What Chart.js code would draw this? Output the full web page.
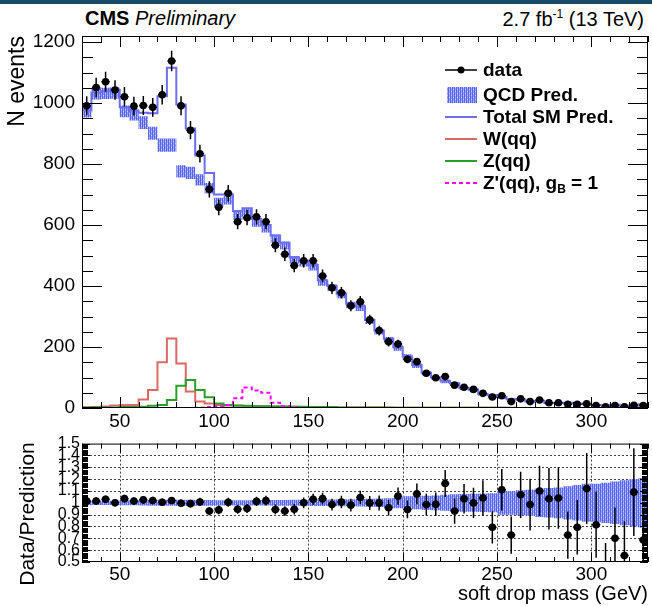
<!DOCTYPE html>
<html>
<head>
<meta charset="utf-8">
<script src="https://cdn.jsdelivr.net/npm/chart.js@4.4.1/dist/chart.umd.min.js"></script>
<style>
  body { margin: 0; background: #fff; width: 652px; height: 606px; overflow: hidden; position: relative;
         font-family: "Liberation Sans", Arial, sans-serif; }
  #strip { position: absolute; left: 0; top: 0; width: 652px; height: 4px; background: #1b4a68; }
  .hdr { position: absolute; top: 7px; font-size: 20px; color: #000; white-space: nowrap; }
  #hdrL { left: 85px; }
  #hdrR { right: 8px; }
  #hdrR sup { font-size: 12px; }
  canvas { position: absolute; left: 0; }
  #main { top: 0; }
  #ratio { top: 432px; }
</style>
</head>
<body>
<div id="strip"></div>
<div class="hdr" id="hdrL"><b>CMS</b> <i>Preliminary</i></div>
<div class="hdr" id="hdrR">2.7 fb<sup>-1</sup> (13 TeV)</div>
<canvas id="main" width="652" height="440"></canvas>
<canvas id="ratio" width="652" height="174"></canvas>
<script>
// binning: 5 GeV bins from 30 to 330 GeV
const BIN_LO = 30;
const BIN_W = 5;

const dataCounts = [991, 1051, 1070, 1043, 1021, 990, 992, 986, 1027, 1138,
  991, 911, 834, 717, 658, 704, 611, 624, 627, 611,
  534, 504, 467, 483, 483, 433, 394, 378, 335, 348,
  289, 254, 217, 210, 160, 152, 114, 99, 103, 75,
  68, 61, 48, 36, 40, 21, 30, 21, 26, 17,
  17, 12, 12, 14, 8, 4, 8, 4, 9, 8];
const dataErr = [31, 32, 33, 32, 32, 31, 31, 31, 32, 34,
  31, 30, 29, 27, 26, 27, 25, 25, 25, 25,
  23, 22, 22, 22, 22, 21, 20, 19, 18, 19,
  17, 16, 15, 14, 13, 12, 11, 10, 10, 9,
  8, 8, 7, 6, 6, 5, 5, 5, 5, 4,
  4, 3.5, 3.5, 4, 3, 2, 3, 2, 3, 3];
const qcdPred = [972, 1030, 1032, 1033, 973, 962, 936, 901, 862, 862,
  776, 771, 748, 721, 675, 682, 631, 642, 608, 589,
  556, 533, 486, 476, 463, 412, 395, 371, 338, 329,
  285, 250, 224, 197, 167, 139, 114, 98, 87, 79,
  64, 59, 44, 41, 34, 28, 27, 20, 23, 15,
  15, 16, 14, 12, 9, 8, 10, 6, 7, 11];
const totalPred = [976, 1035, 1039, 1043, 986, 975, 968, 967, 1022, 1116,
  995, 917, 828, 771, 700, 700, 646, 655, 620, 600,
  566, 542, 494, 483, 469, 418, 400, 375, 342, 333,
  289, 254, 227, 199, 169, 141, 116, 100, 89, 81,
  66, 61, 46, 43, 36, 29, 28, 21, 24, 16,
  16, 17, 15, 12.5, 10, 9, 11, 7, 8, 12];
const wPred = [2, 3, 5, 8, 10, 10, 28, 59, 150, 228,
  146, 54, 21, 15, 10, 8, 7, 6, 6, 5,
  5, 4, 4, 3, 3, 3, 2, 2, 2, 2,
  2, 2, 2, 1, 1, 1, 1, 1, 1, 1,
  1, 1, 1, 1, 1, 1, 0, 0, 0, 0,
  0, 0, 0, 0, 0, 0, 0, 0, 0, 0];
const zPred = [2, 2, 2, 2, 3, 3, 4, 7, 10, 26,
  73, 92, 59, 35, 15, 10, 8, 7, 6, 6,
  5, 5, 4, 4, 3, 3, 3, 2, 2, 2,
  2, 2, 1, 1, 1, 1, 1, 1, 1, 1,
  1, 1, 1, 1, 1, 0, 0, 0, 0, 0,
  0, 0, 0, 0, 0, 0, 0, 0, 0, 0];
const zPrimePred = [0, 0, 0, 0, 0, 0, 0, 0, 0, 0,
  0, 0, 1, 3, 6, 10, 32, 67, 57, 50,
  17, 6, 2, 1, 0, 0, 0, 0, 0, 0,
  0, 0, 0, 0, 0, 0, 0, 0, 0, 0,
  0, 0, 0, 0, 0, 0, 0, 0, 0, 0,
  0, 0, 0, 0, 0, 0, 0, 0, 0, 0];
const ratio = [1.015, 1.015, 1.03, 1.0, 1.035, 1.015, 1.025, 1.02, 1.005, 1.02,
  0.996, 0.993, 1.007, 0.93, 0.94, 1.005, 0.946, 0.952, 1.012, 1.018,
  0.944, 0.93, 0.946, 1.0, 1.03, 1.035, 0.985, 1.007, 0.98, 1.045,
  0.999, 0.999, 0.958, 1.056, 0.944, 1.075, 0.985, 0.988, 1.163, 0.93,
  1.034, 0.999, 1.04, 0.793, 1.11, 0.727, 1.067, 0.985, 1.1, 1.034,
  1.04, 0.727, 0.793, 1.12, 0.815, 0.44, 0.70, 0.555, 1.09, 0.685];
const ratioErr = [0.032, 0.031, 0.032, 0.031, 0.032, 0.032, 0.033, 0.032, 0.031, 0.030,
  0.032, 0.033, 0.035, 0.035, 0.037, 0.038, 0.038, 0.038, 0.040, 0.041,
  0.041, 0.041, 0.044, 0.045, 0.047, 0.050, 0.050, 0.052, 0.054, 0.056,
  0.059, 0.063, 0.065, 0.073, 0.075, 0.087, 0.092, 0.099, 0.114, 0.107,
  0.125, 0.128, 0.150, 0.136, 0.175, 0.158, 0.195, 0.218, 0.212, 0.26,
  0.26, 0.20, 0.23, 0.30, 0.28, 0.22, 0.26, 0.29, 0.37, 0.24];
// relative uncertainty of the prediction (blue band)
const bandRel = [0.02, 0.018, 0.018, 0.018, 0.02, 0.02, 0.022, 0.024, 0.025, 0.025,
  0.026, 0.026, 0.025, 0.024, 0.022, 0.022, 0.022, 0.022, 0.023, 0.023,
  0.024, 0.024, 0.025, 0.025, 0.026, 0.027, 0.028, 0.03, 0.03, 0.032,
  0.034, 0.036, 0.038, 0.045, 0.055, 0.055, 0.06, 0.062, 0.068, 0.072,
  0.075, 0.076, 0.078, 0.08, 0.1, 0.1, 0.105, 0.11, 0.12, 0.125,
  0.13, 0.14, 0.15, 0.16, 0.16, 0.17, 0.18, 0.19, 0.2, 0.21];

const massTicks = [50, 100, 150, 200, 250, 300];
const countTicks = [0, 200, 400, 600, 800, 1000, 1200];
const ratioTicks = [0.5, 0.6, 0.7, 0.8, 0.9, 1, 1.1, 1.2, 1.3, 1.4, 1.5];

const FONT = '"Liberation Sans", Arial, sans-serif';

// step histogram points: left and right edge of every bin
function hist(vals) {
  const pts = [];
  vals.forEach((v, i) => {
    pts.push({x: BIN_LO + i * BIN_W, y: v});
    pts.push({x: BIN_LO + (i + 1) * BIN_W, y: v});
  });
  return pts;
}
function points(vals) {
  return vals.map((v, i) => ({x: BIN_LO + (i + 0.5) * BIN_W, y: v}));
}

function hatch(ctx) {
  const c = document.createElement('canvas');
  c.width = 4; c.height = 4;
  const g = c.getContext('2d');
  g.fillStyle = 'rgb(150,160,255)';
  g.fillRect(0, 0, 4, 4);
  g.fillStyle = 'rgb(85,100,245)';
  g.fillRect(0, 0, 1, 4);
  g.fillRect(2, 0, 1, 4);
  g.fillStyle = 'rgb(205,210,255)';
  g.fillRect(1, 1, 1, 1);
  g.fillRect(3, 3, 1, 1);
  return ctx.createPattern(c, 'repeat');
}

// ROOT-like frame with inward tick marks
const rootFrame = {
  id: 'rootFrame',
  afterDatasetsDraw(chart, args, o) {
    const {ctx, chartArea: a, scales: {x, y}} = chart;
    ctx.save();
    ctx.strokeStyle = '#000';
    ctx.lineWidth = 1;
    ctx.strokeRect(a.left + 0.5, a.top + 0.5, a.right - a.left - 1, a.bottom - a.top - 1);
    ctx.beginPath();
    const nx = Math.round((x.max - x.min) / o.xMinor);
    for (let k = 0; k <= nx; k++) {
      const v = x.min + k * o.xMinor;
      const major = Math.abs(v / o.xMajor - Math.round(v / o.xMajor)) < 1e-6;
      const len = major ? o.xLen[0] : o.xLen[1];
      const px = Math.round(x.getPixelForValue(v)) + 0.5;
      ctx.moveTo(px, a.bottom); ctx.lineTo(px, a.bottom - len);
      ctx.moveTo(px, a.top); ctx.lineTo(px, a.top + len);
    }
    const ny = Math.round((y.max - y.min) / o.yMinor);
    for (let k = 0; k <= ny; k++) {
      const v = y.min + k * o.yMinor;
      const major = Math.abs(v / o.yMajor - Math.round(v / o.yMajor)) < 1e-6;
      const len = major ? o.yLen[0] : o.yLen[1];
      const py = Math.round(y.getPixelForValue(v)) + 0.5;
      ctx.moveTo(a.left, py); ctx.lineTo(a.left + len, py);
      ctx.moveTo(a.right, py); ctx.lineTo(a.right - len, py);
    }
    ctx.stroke();
    ctx.restore();
  }
};

const dottedGrid = {
  id: 'dottedGrid',
  beforeDatasetsDraw(chart, args, o) {
    const {ctx, chartArea: a, scales: {x, y}} = chart;
    ctx.save();
    ctx.strokeStyle = '#444';
    ctx.lineWidth = 1;
    ctx.setLineDash([2, 2]);
    ctx.beginPath();
    o.xs.forEach(v => {
      const px = Math.round(x.getPixelForValue(v)) + 0.5;
      ctx.moveTo(px, a.top); ctx.lineTo(px, a.bottom);
    });
    o.ys.forEach(v => {
      const py = Math.round(y.getPixelForValue(v)) + 0.5;
      ctx.moveTo(a.left, py); ctx.lineTo(a.right, py);
    });
    ctx.stroke();
    ctx.restore();
  }
};

const errorBars = {
  id: 'errorBars',
  afterDatasetsDraw(chart, args, o) {
    const {ctx, chartArea: a, scales: {x, y}} = chart;
    ctx.save();
    ctx.beginPath();
    ctx.rect(a.left, a.top, a.right - a.left, a.bottom - a.top);
    ctx.clip();
    ctx.strokeStyle = '#000';
    ctx.lineWidth = 1.5;
    ctx.beginPath();
    o.values.forEach((v, i) => {
      const c = BIN_LO + (i + 0.5) * BIN_W;
      const px = x.getPixelForValue(c);
      ctx.moveTo(px, y.getPixelForValue(v - o.errors[i]));
      ctx.lineTo(px, y.getPixelForValue(v + o.errors[i]));
      const py = y.getPixelForValue(v);
      ctx.moveTo(x.getPixelForValue(c - 2.2), py);
      ctx.lineTo(x.getPixelForValue(c + 2.2), py);
    });
    ctx.stroke();
    ctx.restore();
  }
};

// y title of the ratio pad, placed like ROOT does (a bit below the pad centre)
const ratioTitle = {
  id: 'ratioTitle',
  afterDraw(chart) {
    const ctx = chart.ctx;
    ctx.save();
    ctx.translate(28, 82);
    ctx.rotate(-Math.PI / 2);
    ctx.font = '21px ' + FONT;
    ctx.fillStyle = '#000';
    ctx.textAlign = 'center';
    ctx.textBaseline = 'middle';
    ctx.fillText('Data/Prediction', 0, 0);
    ctx.restore();
  }
};

const legendBox = {
  id: 'legendBox',
  afterDraw(chart) {
    const ctx = chart.ctx;
    const x0 = 445, x1 = 477, tx = 483;
    const rows = [70, 95, 117, 139, 161, 183];
    ctx.save();
    ctx.font = 'bold 19px ' + FONT;
    ctx.textBaseline = 'middle';
    ctx.fillStyle = '#000';
    // data
    ctx.strokeStyle = '#000'; ctx.lineWidth = 1.5;
    ctx.beginPath(); ctx.moveTo(x0, rows[0]); ctx.lineTo(x1, rows[0]); ctx.stroke();
    ctx.beginPath(); ctx.arc((x0 + x1) / 2, rows[0], 3.5, 0, Math.PI * 2); ctx.fill();
    ctx.fillText('data', tx, rows[0] + 1);
    // QCD
    ctx.fillStyle = hatch(ctx);
    ctx.fillRect(x0 + 2, rows[1] - 8, x1 - x0 - 2, 16);
    ctx.fillStyle = '#000';
    ctx.fillText('QCD Pred.', tx, rows[1] + 1);
    const line = (row, color, dash) => {
      ctx.strokeStyle = color; ctx.lineWidth = 2; ctx.setLineDash(dash || []);
      ctx.beginPath(); ctx.moveTo(x0, row); ctx.lineTo(x1, row); ctx.stroke();
      ctx.setLineDash([]);
    };
    line(rows[2], 'rgb(110,110,240)');
    ctx.fillText('Total SM Pred.', tx, rows[2] + 1);
    line(rows[3], 'rgb(220,105,100)');
    ctx.fillText('W(qq)', tx, rows[3] + 1);
    line(rows[4], 'rgb(40,160,40)');
    ctx.fillText('Z(qq)', tx, rows[4] + 1);
    line(rows[5], 'rgb(255,0,255)', [4, 3]);
    let s = "Z'(qq), g";
    ctx.fillText(s, tx, rows[5] + 1);
    let w = ctx.measureText(s).width;
    ctx.font = 'bold 12px ' + FONT;
    ctx.fillText('B', tx + w, rows[5] + 7);
    w += ctx.measureText('B').width;
    ctx.font = 'bold 19px ' + FONT;
    ctx.fillText(' = 1', tx + w, rows[5] + 1);
    ctx.restore();
  }
};

const mainCtx = document.getElementById('main').getContext('2d');
const qcdHatch = hatch(mainCtx);

new Chart(mainCtx, {
  type: 'line',
  data: {
    datasets: [
      {label: 'QCD up', data: hist(qcdPred.map((v, i) => v * (1 + bandRel[i]))), borderWidth: 0,
       pointRadius: 0, backgroundColor: qcdHatch, fill: '+1', order: 6},
      {label: 'QCD down', data: hist(qcdPred.map((v, i) => v * (1 - bandRel[i]))), borderWidth: 0,
       pointRadius: 0, fill: false, order: 7},
      {label: 'Total SM Pred.', data: hist(totalPred), borderColor: 'rgb(110,110,240)', borderWidth: 2,
       pointRadius: 0, fill: false, order: 4},
      {label: 'W(qq)', data: hist(wPred), borderColor: 'rgb(220,105,100)', borderWidth: 2,
       pointRadius: 0, fill: false, order: 3},
      {label: 'Z(qq)', data: hist(zPred), borderColor: 'rgb(40,160,40)', borderWidth: 2,
       pointRadius: 0, fill: false, order: 2},
      {label: "Z'(qq)", data: hist(zPrimePred), borderColor: 'rgb(255,0,255)', borderWidth: 2,
       borderDash: [4, 3], pointRadius: 0, fill: false, order: 1},
      {label: 'data', data: points(dataCounts), showLine: false, pointRadius: 3.8,
       pointBackgroundColor: '#000', pointBorderWidth: 0, order: 0}
    ]
  },
  options: {
    responsive: false,
    animation: false,
    layout: {padding: {left: 0, right: 2, top: 36, bottom: 0}},
    plugins: {
      legend: {display: false},
      tooltip: {enabled: false},
      rootFrame: {xMinor: 10, xMajor: 50, xLen: [11, 6], yMinor: 50, yMajor: 200, yLen: [20, 11]},
      errorBars: {values: dataCounts, errors: dataErr}
    },
    scales: {
      x: {
        type: 'linear', min: 30, max: 330,
        grid: {display: false, drawTicks: false}, border: {display: false},
        afterBuildTicks: s => { s.ticks = massTicks.map(v => ({value: v})); },
        afterFit: s => { s.height = 32; },
        ticks: {padding: 2, color: '#000', font: {family: FONT, size: 19}, callback: v => String(v)}
      },
      y: {
        min: 0, max: 1220,
        grid: {display: false, drawTicks: false}, border: {display: false},
        afterBuildTicks: s => { s.ticks = countTicks.map(v => ({value: v})); },
        afterFit: s => { s.width = 82; },
        ticks: {padding: 7, color: '#000', font: {family: FONT, size: 19}, callback: v => String(v)},
        title: {display: true, text: 'N events', align: 'end', color: '#000',
                font: {family: FONT, size: 23}, padding: {top: 4, bottom: 0}}
      }
    }
  },
  plugins: [rootFrame, errorBars, legendBox]
});

const ratioCtx = document.getElementById('ratio').getContext('2d');
new Chart(ratioCtx, {
  type: 'line',
  data: {
    datasets: [
      {label: 'band up', data: hist(bandRel.map(r => 1 + r)), borderWidth: 0, pointRadius: 0,
       backgroundColor: hatch(ratioCtx), fill: '+1', order: 3},
      {label: 'band down', data: hist(bandRel.map(r => 1 - r)), borderWidth: 0, pointRadius: 0,
       fill: false, order: 4},
      {label: 'Data/Prediction', data: points(ratio), showLine: false, pointRadius: 3.8,
       pointBackgroundColor: '#000', pointBorderWidth: 0, order: 0}
    ]
  },
  options: {
    responsive: false,
    animation: false,
    layout: {padding: {left: 0, right: 2, top: 8, bottom: 0}},
    plugins: {
      legend: {display: false},
      tooltip: {enabled: false},
      dottedGrid: {xs: massTicks, ys: [0.6, 0.7, 0.8, 0.9, 1.0, 1.1, 1.2, 1.3, 1.4]},
      rootFrame: {xMinor: 10, xMajor: 50, xLen: [9, 5], yMinor: 0.01, yMajor: 0.1, yLen: [8, 6]},
      errorBars: {values: ratio, errors: ratioErr}
    },
    scales: {
      x: {
        type: 'linear', min: 30, max: 330,
        grid: {display: false, drawTicks: false}, border: {display: false},
        afterBuildTicks: s => { s.ticks = massTicks.map(v => ({value: v})); },
        afterFit: s => { s.height = 44; },
        ticks: {padding: 1, color: '#000', font: {family: FONT, size: 19}, callback: v => String(v)},
        title: {display: true, text: 'soft drop mass (GeV)', align: 'end', color: '#000',
                font: {family: FONT, size: 20}, padding: {top: 0, bottom: 0}}
      },
      y: {
        min: 0.5, max: 1.5,
        grid: {display: false, drawTicks: false}, border: {display: false},
        afterBuildTicks: s => { s.ticks = ratioTicks.map(v => ({value: v})); },
        afterFit: s => { s.width = 82; },
        ticks: {padding: 2, color: '#000', autoSkip: false, font: {family: FONT, size: 16},
                callback: v => String(v)}
      }
    }
  },
  plugins: [dottedGrid, rootFrame, errorBars, ratioTitle]
});
</script>
</body>
</html>
